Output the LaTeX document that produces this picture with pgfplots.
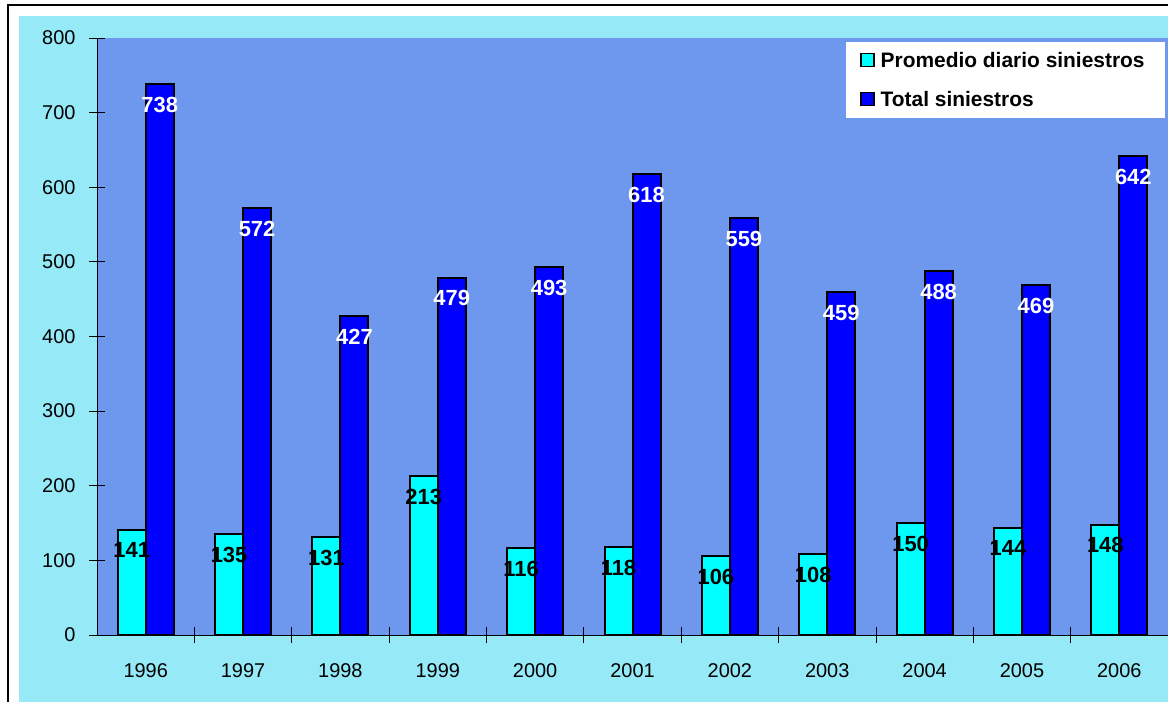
\documentclass[border=0pt]{standalone}
\usepackage{pgfplots}
\pgfplotsset{compat=1.18}
\usepackage{fontspec}
\setmainfont{Liberation Sans}
\definecolor{outercyan}{HTML}{96E9F7}
\definecolor{plotblue}{HTML}{6E98EE}
\definecolor{barcyan}{HTML}{00FFFF}
\definecolor{barblue}{HTML}{0000FF}

\begin{document}
\begin{tikzpicture}[x=1bp,y=1bp]
\useasboundingbox (0,0) rectangle (1168,702);
\clip (0,0) rectangle (1168,702);
\fill[white] (0,0) rectangle (1168,702);
\draw[black,line width=2.5bp] (8,697) rectangle (1190,-20);
\fill[outercyan] (19,686) rectangle (1168,0);
\begin{axis}[
  at={(97bp,67bp)}, anchor=south west,
  scale only axis, width=1071bp, height=597bp,
  axis background/.style={fill=plotblue},
  ybar=0pt, bar width=28bp,
  xmin=-0.5, xmax=10.5, ymin=0, ymax=800,
  enlarge x limits=false, enlarge y limits=false,
  axis x line*=bottom, axis y line*=left,
  axis line style={black, line width=0.8bp},
  xtick={0,...,10},
  xticklabels={1996,1997,1998,1999,2000,2001,2002,2003,2004,2005,2006},
  minor xtick={0.5,1.5,...,9.5},
  ytick={0,100,...,800},
  tick align=center,
  x tick style={draw=none},
  minor x tick style={draw=black, line width=0.8bp},
  y tick style={black, line width=0.8bp},
  major tick length=16bp, minor tick length=16bp,
  tick label style={font=\fontsize{20}{24}\selectfont, black},
  xticklabel style={yshift=-17bp},
  yticklabel style={xshift=-10bp},
  /pgf/number format/assume math mode=true,
  /pgf/number format/1000 sep={},
  legend cell align=left,
  legend style={at={(0.997,0.993)}, anchor=north east, draw=none, fill=white,
    font=\bfseries\fontsize{21}{23}\selectfont,
    inner xsep=14bp, inner ysep=8bp, row sep=18bp,
    nodes={inner xsep=6bp}},
  legend image code/.code={\draw[#1, line width=1.5bp] (0bp,-6bp) rectangle (13bp,7bp);},
]
\addplot[fill=barcyan, draw=black, line width=2bp,
  nodes near coords,
  every node near coord/.append style={font=\bfseries\fontsize{22}{24}\selectfont, text=black, anchor=north, yshift=-12bp, inner sep=0pt}]
  coordinates {(0,141) (1,135) (2,131) (3,213) (4,116) (5,118) (6,106) (7,108) (8,150) (9,144) (10,148)};
\addplot[fill=barblue, draw=black, line width=2bp,
  nodes near coords,
  every node near coord/.append style={font=\bfseries\fontsize{22}{24}\selectfont, text=white, anchor=north, yshift=-12bp, inner sep=0pt}]
  coordinates {(0,738) (1,572) (2,427) (3,479) (4,493) (5,618) (6,559) (7,459) (8,488) (9,469) (10,642)};
\legend{Promedio diario siniestros,Total siniestros}
\end{axis}
\end{tikzpicture}
\end{document}
